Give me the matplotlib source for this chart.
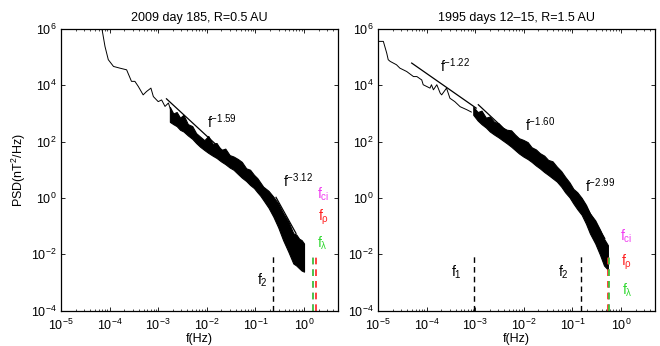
import numpy as np
import matplotlib
matplotlib.use("Agg")
import matplotlib.pyplot as plt
from matplotlib.ticker import LogLocator, NullFormatter, NullLocator

plt.rcParams['font.family'] = ['Liberation Sans', 'DejaVu Sans']
plt.rcParams['mathtext.fontset'] = 'custom'
plt.rcParams['mathtext.rm'] = 'Liberation Sans'
plt.rcParams['mathtext.it'] = 'Liberation Sans'
plt.rcParams['mathtext.default'] = 'regular'

# ---- data (log10 values) ----
# 2009 day 185, R=0.5 AU
left_line_logf = [-4.20, -4.16, -4.095, -4.027, -3.92, -3.79, -3.65, -3.55, -3.48,
                  -3.41, -3.31, -3.24, -3.15, -3.10, -3.00, -2.93, -2.86, -2.79, -2.72]
left_line_logp = [6.30, 6.03, 5.38, 4.91, 4.67, 4.61, 4.55, 4.14, 4.14,
                  3.96, 3.66, 3.78, 3.90, 3.60, 3.42, 3.48, 3.25, 3.37, 3.00]
left_band_logf = [-2.76, -2.69, -2.62, -2.55, -2.48, -2.39, -2.30, -2.22, -2.14,
                  -2.05, -1.97, -1.88, -1.80, -1.71, -1.62, -1.53, -1.45, -1.36,
                  -1.28, -1.19, -1.11, -1.03, -0.96, -0.90, -0.84, -0.73, -0.63,
                  -0.53, -0.43, -0.32, -0.22, -0.16, -0.10, -0.05, 0.0]
left_band_top = [3.23, 3.00, 3.05, 2.85, 2.95, 2.62, 2.55, 2.30, 2.18,
                 2.05, 2.20, 1.92, 1.95, 1.70, 1.75, 1.52, 1.47, 1.38,
                 1.28, 1.05, 1.00, 0.82, 0.70, 0.55, 0.40, 0.25, 0.04,
                 -0.20, -0.54, -0.85, -1.26, -1.30, -1.45, -1.50, -1.62]
left_band_bot = [2.70, 2.62, 2.55, 2.42, 2.36, 2.22, 2.10, 1.95, 1.82,
                 1.70, 1.60, 1.50, 1.42, 1.30, 1.20, 1.08, 1.00, 0.85,
                 0.72, 0.60, 0.46, 0.35, 0.20, 0.08, -0.07, -0.35, -0.67,
                 -1.05, -1.50, -1.92, -2.33, -2.40, -2.50, -2.58, -2.62]
left_fit_logf = [[-2.83, -0.665], [-0.576, -0.165]]
left_fit_logp = [[3.52, 0.07], [0.02, -1.26]]
left_fit_text = ['f$^{-1.59}$', 'f$^{-3.12}$']
left_fit_text_pos = [(-2.0, 2.49), (-0.43, 0.40)]
left_marks = {'f$_2$': 0.234}
left_marks_text_pos = [(-0.97, -3.07)]
left_ion = {'ci': 1.51, 'rho': 1.77, 'lam': 1.51}
left_ion_text_pos = [(0.27, -0.03), (0.29, -0.79), (0.27, -1.75)]

# 1995 days 12-15, R=1.5 AU
right_line_logf = [-5.00, -4.89, -4.82, -4.79, -4.75, -4.62, -4.55, -4.41, -4.27,
                   -4.20, -4.10, -4.07, -3.93, -3.90, -3.86, -3.79, -3.72, -3.69,
                   -3.59, -3.52, -3.42, -3.31, -3.17, -3.08]
right_line_logp = [5.56, 5.56, 5.14, 4.91, 4.85, 4.73, 4.61, 4.49, 4.31,
                   4.31, 4.19, 4.02, 3.90, 4.02, 3.84, 4.02, 3.72, 3.66,
                   3.90, 3.54, 3.42, 3.24, 3.13, 3.05]
right_band_logf = [-3.04, -2.95, -2.87, -2.78, -2.70, -2.61, -2.52, -2.44, -2.35,
                   -2.26, -2.18, -2.10, -2.01, -1.92, -1.84, -1.75, -1.67, -1.58,
                   -1.50, -1.41, -1.32, -1.23, -1.15, -1.06, -0.98, -0.90, -0.81,
                   -0.72, -0.64, -0.53, -0.43, -0.35, -0.27]
right_band_top = [3.24, 3.05, 3.10, 2.85, 2.89, 2.70, 2.65, 2.50, 2.42,
                  2.40, 2.25, 2.12, 2.06, 1.98, 1.80, 1.72, 1.59, 1.50,
                  1.35, 1.30, 1.11, 0.95, 0.75, 0.55, 0.32, 0.20, 0.00,
                  -0.25, -0.55, -0.80, -1.14, -1.45, -1.68]
right_band_bot = [2.95, 2.75, 2.62, 2.50, 2.36, 2.25, 2.15, 2.05, 1.94,
                  1.82, 1.70, 1.58, 1.47, 1.38, 1.28, 1.15, 1.05, 0.92,
                  0.82, 0.70, 0.58, 0.40, 0.20, 0.02, -0.20, -0.40, -0.60,
                  -0.92, -1.26, -1.62, -2.03, -2.40, -2.55]
right_fit_logf = [[-4.307, -2.98], [-2.936, -0.982], [-0.81, -0.335]]
right_fit_logp = [[4.79, 3.19], [3.31, 0.16], [-0.04, -1.44]]
right_fit_text = ['f$^{-1.22}$', 'f$^{-1.60}$', 'f$^{-2.99}$']
right_fit_text_pos = [(-3.72, 4.49), (-1.975, 2.36), (-0.74, 0.20)]
right_marks = {'f$_1$': 0.00095, 'f$_2$': 0.148}
right_marks_text_pos = [(-3.50, -2.8), (-1.29, -2.8)]
right_ion = {'ci': 0.555, 'rho': 0.54, 'lam': 0.57}
right_ion_text_pos = [(-0.02, -1.5), (0.0, -2.39), (0.03, -3.42)]

titles = ['2009 day 185, R=0.5 AU', '1995 days 12\u201315, R=1.5 AU']

ion_colors = {'ci': '#f03cf0', 'rho': '#ff2020', 'lam': '#30d830'}
ion_labels = {'ci': 'f$_{ci}$', 'rho': 'f$_{\\rho}$', 'lam': 'f$_{\\lambda}$'}

fig = plt.figure(figsize=(6.6, 3.46), dpi=100)
ax_l = fig.add_axes([61 / 660, 1 - 310.5 / 346, 277 / 660, 281.5 / 346])
ax_r = fig.add_axes([378 / 660, 1 - 310.5 / 346, 277 / 660, 281.5 / 346])


def draw_panel(ax, line_f, line_p, band_f, band_t, band_b, fit_f, fit_p, fit_txt,
               fit_pos, marks, marks_pos, ion, ion_pos, title):
    p10 = lambda v: 10 ** np.asarray(v, dtype=float)
    ax.plot(p10(line_f), p10(line_p), color='k', lw=0.7)
    ax.fill_between(p10(band_f), p10(band_b), p10(band_t), color='k', lw=0.8,
                    edgecolor='k')
    for ff, pp in zip(fit_f, fit_p):
        ax.plot(p10(ff), p10(pp), color='k', lw=0.9)
    for txt, (x, y) in zip(fit_txt, fit_pos):
        ax.text(10 ** x, 10 ** y, txt, fontsize=10, ha='left', va='baseline')
    for (lab, fx), (x, y) in zip(marks.items(), marks_pos):
        ax.plot([fx, fx], [1e-4, 1e-2], color='k', lw=1.0, ls=(0, (4, 3)))
        ax.text(10 ** x, 10 ** y, lab, fontsize=10, ha='left', va='baseline')
    for (key, fx), (x, y) in zip(ion.items(), ion_pos):
        ax.plot([fx, fx], [1e-4, 1e-2], color=ion_colors[key], lw=1.2,
                ls=(0, (4, 3)))
        ax.text(10 ** x, 10 ** y, ion_labels[key], fontsize=10, ha='left',
                va='baseline', color=ion_colors[key])

    ax.set_xscale('log')
    ax.set_yscale('log')
    ax.set_xlim(1e-5, 5)
    ax.set_ylim(1e-4, 1e6)
    ax.xaxis.set_major_locator(LogLocator(base=10, numticks=20))
    ax.xaxis.set_minor_locator(LogLocator(base=10, subs=np.arange(2, 10), numticks=20))
    ax.xaxis.set_minor_formatter(NullFormatter())
    ax.set_yticks([1e-4, 1e-2, 1e0, 1e2, 1e4, 1e6])
    ax.yaxis.set_minor_locator(NullLocator())
    ax.tick_params(which='both', direction='in', top=True, right=True,
                   labelsize=9)
    ax.tick_params(axis='x', which='major', pad=5)
    ax.tick_params(axis='y', which='major', pad=3)
    ax.tick_params(which='major', length=3.0, width=0.6)
    ax.tick_params(which='minor', length=1.6, width=0.5)
    for s in ax.spines.values():
        s.set_linewidth(0.9)
    ax.set_xlabel('f(Hz)', fontsize=9, labelpad=0)
    ax.set_title(title, fontsize=9, pad=6)


draw_panel(ax_l, left_line_logf, left_line_logp, left_band_logf, left_band_top,
           left_band_bot, left_fit_logf, left_fit_logp, left_fit_text,
           left_fit_text_pos, left_marks, left_marks_text_pos, left_ion,
           left_ion_text_pos, titles[0])
draw_panel(ax_r, right_line_logf, right_line_logp, right_band_logf, right_band_top,
           right_band_bot, right_fit_logf, right_fit_logp, right_fit_text,
           right_fit_text_pos, right_marks, right_marks_text_pos, right_ion,
           right_ion_text_pos, titles[1])
ax_l.set_ylabel('PSD(nT$^2$/Hz)', fontsize=9, labelpad=2)

fig.savefig('out.png', dpi=100)
